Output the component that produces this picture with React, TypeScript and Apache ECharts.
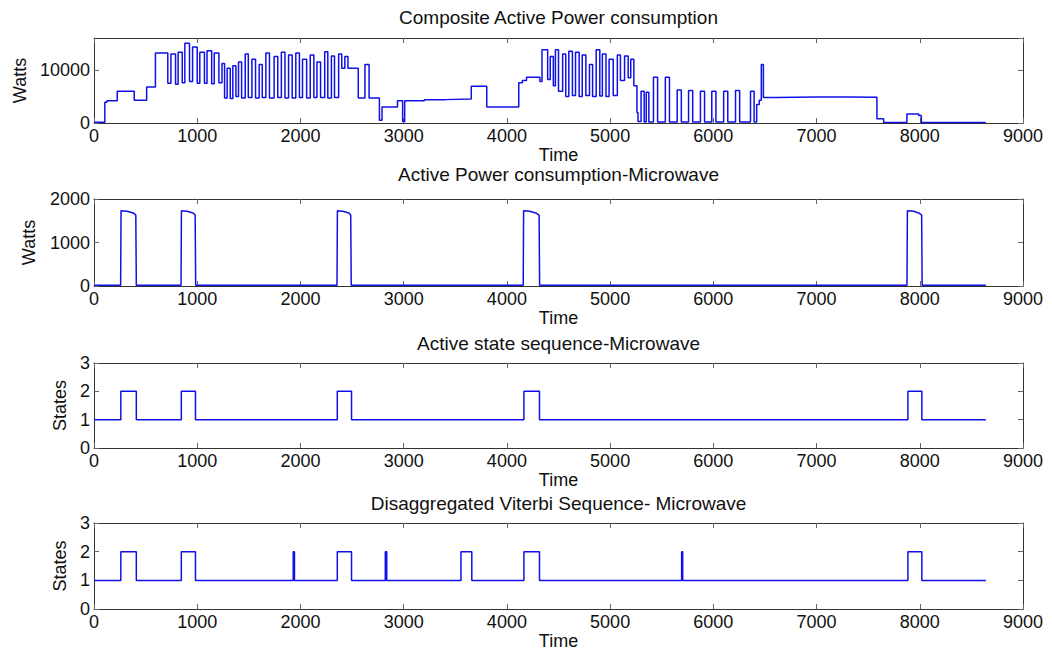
import React, { useEffect, useRef } from "react";
import * as echarts from "echarts";

// ---- Data ----
const xTickMax = 9000;

// Composite active power (W): [time, watts] held until next point
const compositePoints: [number, number][] = [
  [0, 150], [105, 3900], [125, 4200], [225, 6000], [390, 4300], [510, 6800],
  [595, 13200], [715, 7500], [745, 13000], [790, 7300], [815, 13300], [855, 7600],
  [880, 15000], [925, 7800], [955, 14300], [1000, 7500], [1025, 13300], [1070, 7500],
  [1095, 13600], [1140, 7400], [1165, 13200], [1210, 7600], [1240, 11200], [1265, 4700],
  [1290, 10300], [1320, 4600], [1345, 10800], [1375, 5000], [1400, 11500], [1430, 4700],
  [1465, 13000], [1495, 4800], [1530, 12000], [1565, 4700], [1600, 11000], [1630, 4800],
  [1665, 13200], [1700, 4700], [1745, 12500], [1780, 4800], [1815, 13300], [1850, 4700],
  [1885, 12800], [1920, 4700], [1955, 13200], [1990, 4800], [2020, 12000], [2060, 4700],
  [2095, 12800], [2130, 4800], [2160, 11500], [2195, 4800], [2235, 13400], [2265, 4700],
  [2300, 12600], [2330, 4800], [2370, 13000], [2400, 10300], [2430, 12500], [2460, 10300],
  [2560, 4700], [2625, 11000], [2665, 4700], [2765, 500], [2790, 3000], [2940, 4200],
  [2990, 300], [3010, 4200], [3200, 4400], [3400, 4500], [3655, 6900], [3805, 3000],
  [4115, 7600], [4150, 8000], [4190, 8600], [4320, 7800], [4340, 13800], [4395, 8200],
  [4420, 12500], [4450, 7000], [4470, 13800], [4500, 6000], [4540, 13000], [4570, 5000],
  [4600, 13500], [4635, 5200], [4665, 13300], [4700, 5000], [4730, 12800], [4765, 5200],
  [4800, 11000], [4830, 5000], [4865, 13800], [4900, 5100], [4925, 13000], [4960, 5000],
  [4990, 12000], [5030, 5200], [5070, 12800], [5100, 8000], [5140, 12600], [5175, 8500],
  [5200, 12000], [5230, 7000], [5260, 2000], [5270, 300], [5300, 6000], [5330, 200],
  [5350, 5800], [5375, 200], [5420, 8600], [5460, 200], [5535, 8600], [5575, 200],
  [5650, 6200], [5690, 200], [5760, 6100], [5800, 200], [5875, 6000], [5915, 200],
  [5985, 6000], [6025, 200], [6100, 6000], [6140, 200], [6215, 6100], [6255, 200],
  [6360, 6000], [6395, 200], [6420, 3500], [6445, 4300], [6465, 11000], [6485, 4800],
  [6600, 4900], [7000, 4900], [7300, 4850], [7585, 800], [7650, 100], [7875, 1700],
  [7990, 1400], [8015, 100], [8640, 100],
];

// Microwave active power (W)
const microwavePoints: [number, number][] = [
  [0, 20], [258, 20], [262, 1730], [320, 1720], [380, 1680], [405, 1630], [410, 20],
  [843, 20], [847, 1730], [900, 1720], [960, 1680], [980, 1630], [985, 20],
  [2354, 20], [2358, 1730], [2410, 1720], [2470, 1680], [2487, 1630], [2492, 20],
  [4158, 20], [4162, 1730], [4220, 1720], [4280, 1680], [4312, 1630], [4317, 20],
  [7876, 20], [7880, 1730], [7940, 1720], [7990, 1680], [8018, 1630], [8023, 20],
  [8640, 20],
];

// Active state sequence (step)
const statePoints: [number, number][] = [
  [0, 1], [260, 2], [410, 1], [846, 2], [983, 1], [2357, 2], [2495, 1],
  [4165, 2], [4316, 1], [7885, 2], [8020, 1], [8640, 1],
];

// Disaggregated Viterbi sequence (step)
const viterbiPoints: [number, number][] = [
  [0, 1], [260, 2], [410, 1], [846, 2], [983, 1], [1930, 2], [1942, 1],
  [2357, 2], [2495, 1], [2822, 2], [2836, 1], [3555, 2], [3660, 1],
  [4165, 2], [4316, 1], [5693, 2], [5703, 1], [7885, 2], [8020, 1], [8640, 1],
];

const titles = [
  "Composite Active Power consumption",
  "Active Power consumption-Microwave",
  "Active state sequence-Microwave",
  "Disaggregated Viterbi Sequence- Microwave",
];
const yNames = ["Watts", "Watts", "States", "States"];
const yMax = [16000, 2000, 3, 3];
const yInterval = [10000, 1000, 1, 1];

// ---- Layout ----
const FONT = "'Liberation Sans', Arial, Helvetica, sans-serif";
const gridLeft = 94;
const gridWidth = 929;
const gridTops = [38, 199, 363, 523];
const gridHeights = [85, 87, 85, 87];
const titleYs = [17, 174, 343, 503];
const yNameGaps = [62, 56, 24, 24];

export default function App() {
  const ref = useRef<HTMLDivElement>(null);
  useEffect(() => {
    document.body.style.margin = "0";
    if (!ref.current) return;
    const chart = echarts.init(ref.current, undefined, { renderer: "svg" });
    const axisColor = "#333";
    const grids: any[] = [];
    const xAxes: any[] = [];
    const yAxes: any[] = [];
    const series: any[] = [];
    const graphics: any[] = [];
    const datasets = [compositePoints, microwavePoints, statePoints, viterbiPoints];
    const steps: any[] = ["end", false, "end", "end"];
    const plain = (v: number) => String(v);
    for (let i = 0; i < 4; i++) {
      grids.push({
        left: gridLeft,
        width: gridWidth,
        top: gridTops[i],
        height: gridHeights[i],
        containLabel: false,
      });
      const baseX = {
        gridIndex: i,
        type: "value",
        min: 0,
        max: xTickMax,
        interval: 1000,
        splitLine: { show: false },
        axisLine: { show: true, onZero: false, lineStyle: { color: axisColor, width: 1 } },
        axisTick: { show: true, inside: true, length: 5, lineStyle: { color: "#666" } },
      };
      xAxes.push({
        ...baseX,
        position: "bottom",
        axisLabel: { fontSize: 18, color: "#111", margin: 4, fontFamily: FONT, formatter: plain },
        name: "Time",
        nameLocation: "middle",
        nameGap: 21,
        nameTextStyle: { fontSize: 18, color: "#111", fontFamily: FONT },
      });
      xAxes.push({ ...baseX, position: "top", axisLabel: { show: false } });
      const baseY = {
        gridIndex: i,
        type: "value",
        min: 0,
        max: yMax[i],
        interval: yInterval[i],
        splitLine: { show: false },
        axisLine: { show: true, onZero: false, lineStyle: { color: axisColor, width: 1 } },
        axisTick: { show: true, inside: true, length: 5, lineStyle: { color: "#666" } },
      };
      yAxes.push({
        ...baseY,
        position: "left",
        axisLabel: {
          fontSize: 18,
          color: "#111",
          margin: 4,
          fontFamily: FONT,
          formatter: plain,
          showMaxLabel: i === 0 ? false : true,
        },
        name: yNames[i],
        nameLocation: "middle",
        nameGap: yNameGaps[i],
        nameTextStyle: { fontSize: 18, color: "#111", fontFamily: FONT },
      });
      yAxes.push({ ...baseY, position: "right", axisLabel: { show: false } });
      series.push({
        type: "line",
        xAxisIndex: 2 * i,
        yAxisIndex: 2 * i,
        data: datasets[i],
        step: steps[i],
        showSymbol: false,
        symbol: "none",
        lineStyle: { color: "#1010e8", width: 1.5 },
        silent: true,
      });
      graphics.push({
        type: "text",
        x: gridLeft + gridWidth / 2,
        y: titleYs[i],
        style: {
          text: titles[i],
          fontSize: 19,
          fontFamily: FONT,
          fill: "#111",
          textAlign: "center",
          textVerticalAlign: "middle",
        },
      });
    }
    chart.setOption({
      animation: false,
      backgroundColor: "#fff",
      grid: grids,
      xAxis: xAxes,
      yAxis: yAxes,
      series,
      graphic: graphics,
    });
    return () => chart.dispose();
  }, []);
  return <div ref={ref} style={{ width: 1052, height: 651 }} />;
}
